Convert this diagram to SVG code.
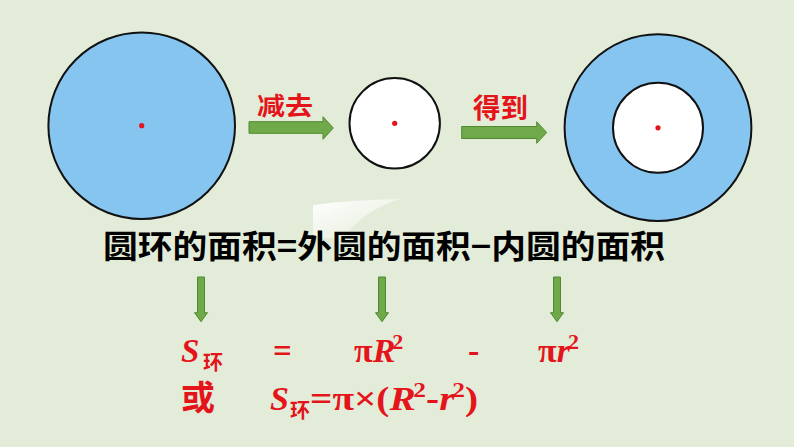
<svg xmlns="http://www.w3.org/2000/svg" width="794" height="447" viewBox="0 0 794 447">
<defs>
<style>
.circ{stroke:#111;stroke-width:2}
.blue{fill:#85c5ef}
.white{fill:#fff}
.dot{fill:#e3151b}
.garrow{fill:#6fa94a;stroke:#4f8a30;stroke-width:1}
.cn{font-family:"Noto Sans CJK SC",sans-serif;font-weight:bold}
.red{fill:#e3151b}
.fm{font-family:"Liberation Serif",serif;font-weight:bold;fill:#e3151b}
</style>
<linearGradient id="hl" x1="0" y1="0" x2="1" y2="1">
<stop offset="0" stop-color="#ffffff" stop-opacity="1"/>
<stop offset="1" stop-color="#ffffff" stop-opacity="0"/>
</linearGradient>
</defs>
<rect width="794" height="447" fill="#e3ecd8"/>
<path d="M313,205 L313,238 L345,238 Q360,212 400,199 Q350,200 313,205 Z" fill="url(#hl)"/>
<g id="outer-circle">
<circle class="circ blue" cx="141.7" cy="125.7" r="93.3"/>
<circle class="dot" cx="141.7" cy="125.7" r="2.6"/>
</g>
<g id="inner-circle">
<circle class="circ white" cx="394.7" cy="123.3" r="45.2"/>
<circle class="dot" cx="394.7" cy="123.3" r="2.6"/>
</g>
<g id="ring">
<circle class="circ blue" cx="658" cy="127.7" r="93.4"/>
<circle class="circ white" cx="658" cy="127.8" r="45"/>
<circle class="dot" cx="658" cy="127.8" r="2.6"/>
</g>
<g id="connectors">
<path class="garrow" d="M249,121.7 L323,121.7 L323,116.7 L333.3,128 L323,139.3 L323,133.3 L249,133.3 Z"/>
<path class="garrow" d="M461.7,126.5 L536.7,126.5 L536.7,121.7 L546.7,132.5 L536.7,143.3 L536.7,138.5 L461.7,138.5 Z"/>
<path class="garrow" d="M197.5,277 L204.5,277 L204.5,312.7 L207.5,312.7 L201,321.7 L194.5,312.7 L197.5,312.7 Z"/>
<path class="garrow" d="M378.5,277 L385.5,277 L385.5,312.7 L388.5,312.7 L382,321.7 L375.5,312.7 L378.5,312.7 Z"/>
<path class="garrow" d="M553.5,277 L560.5,277 L560.5,312.7 L563.5,312.7 L557,321.7 L550.5,312.7 L553.5,312.7 Z"/>
</g>
<g id="label-subtract">
<text class="cn red" x="257" y="115" font-size="25" textLength="56" lengthAdjust="spacingAndGlyphs">减去</text>
</g>
<g id="label-get">
<text class="cn red" x="473" y="118" font-size="27" textLength="55" lengthAdjust="spacingAndGlyphs">得到</text>
</g>
<g id="equation-text">
<text class="cn" x="103" y="258" font-size="32" fill="#000" textLength="562" lengthAdjust="spacingAndGlyphs">圆环的面积=外圆的面积−内圆的面积</text>
</g>
<g id="formula-1">
<text class="fm" x="181" y="362" font-size="33" font-style="italic">S</text>
<text class="cn red" x="203" y="370" font-size="20">环</text>
<text class="fm" x="273" y="362" font-size="33">=</text>
<text class="fm" x="354" y="362" font-size="34">π<tspan font-style="italic">R</tspan><tspan font-size="22" dx="-3" dy="-13">2</tspan></text>
<text class="fm" x="468" y="362" font-size="34">-</text>
<text class="fm" x="538" y="362" font-size="34">π<tspan font-style="italic">r</tspan><tspan font-size="22" dx="-2" dy="-13">2</tspan></text>
</g>
<g id="formula-2">
<text class="cn red" x="181" y="410" font-size="34">或</text>
<text class="fm" x="270" y="410" font-size="34" font-style="italic">S</text>
<text class="cn red" x="290" y="418" font-size="20">环</text>
<text class="fm" x="310" y="410" font-size="34" textLength="168" lengthAdjust="spacingAndGlyphs">=π×(<tspan font-style="italic">R</tspan><tspan font-size="22" dx="-2" dy="-13">2</tspan><tspan dy="13">-</tspan><tspan font-style="italic">r</tspan><tspan font-size="22" dx="-2" dy="-13">2</tspan><tspan dy="13">)</tspan></text>
</g>
</svg>
